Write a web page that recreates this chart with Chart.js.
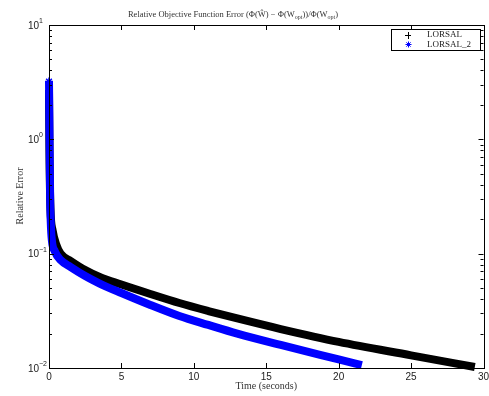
<!DOCTYPE html>
<html>
<head>
<meta charset="utf-8">
<script src="https://cdn.jsdelivr.net/npm/chart.js@4.4.0/dist/chart.umd.min.js"></script>
<style>
  body { margin: 0; background: #fff; }
  #wrap { width: 489px; height: 396px; }
</style>
</head>
<body>
<div id="wrap"><canvas id="errChart" width="489" height="396"></canvas></div>
<script>
// values
const lorsalTime = [0, 0.03, 0.1, 0.25, 0.5, 0.8, 1.5, 2.5, 3.5, 5, 7, 9, 11, 13, 16, 20, 25, 29.4];
const lorsalErr = [2.7, 0.8, 0.25, 0.16, 0.12, 0.1, 0.0863, 0.0719, 0.0625, 0.0537, 0.0444, 0.037, 0.0315, 0.0271, 0.0219, 0.0169, 0.0129, 0.0102];

const lorsal2Time = [0, 0.04, 0.08, 0.12, 0.2, 0.4, 0.8, 1.5, 2.5, 3.5, 5, 7, 9, 11, 13, 16, 20, 21.6];
const lorsal2Err = [3.2, 1.0, 0.3, 0.19, 0.13, 0.105, 0.088, 0.0764, 0.0638, 0.0548, 0.0453, 0.0356, 0.0285, 0.0238, 0.02, 0.0159, 0.0119, 0.0106];

const xTicks = [0, 5, 10, 15, 20, 25, 30];
const yExponents = [1, 0, -1, -2];
const seriesNames = ["LORSAL", "LORSAL_2"];

const serif = "'Liberation Serif', 'DejaVu Serif', serif";
const sans = "'Liberation Sans', Arial, sans-serif";

const toPoints = (xs, ys) => xs.map((t, i) => ({ x: t, y: ys[i] }));

// axes box, inward ticks, tick labels, titles and legend
const decorations = {
  id: "decorations",
  afterDraw(chart) {
    const { ctx, chartArea: a, scales } = chart;
    const x = scales.x;
    const y = scales.y;
    ctx.save();
    ctx.strokeStyle = "#000";
    ctx.lineWidth = 1;
    ctx.strokeRect(Math.round(a.left) + 0.5, Math.round(a.top) + 0.5,
      Math.round(a.right - a.left), Math.round(a.bottom - a.top));

    ctx.beginPath();
    xTicks.forEach((v) => {
      const px = Math.round(x.getPixelForValue(v)) + 0.5;
      ctx.moveTo(px, a.bottom); ctx.lineTo(px, a.bottom - 5);
      ctx.moveTo(px, a.top); ctx.lineTo(px, a.top + 5);
    });
    yExponents.forEach((e) => {
      const py = Math.round(y.getPixelForValue(Math.pow(10, e))) + 0.5;
      ctx.moveTo(a.left, py); ctx.lineTo(a.left + 5, py);
      ctx.moveTo(a.right, py); ctx.lineTo(a.right - 5, py);
    });
    for (let e = -2; e < 1; e++) {
      for (let m = 2; m <= 9; m++) {
        const py = Math.round(y.getPixelForValue(m * Math.pow(10, e))) + 0.5;
        ctx.moveTo(a.left, py); ctx.lineTo(a.left + 3, py);
        ctx.moveTo(a.right, py); ctx.lineTo(a.right - 3, py);
      }
    }
    ctx.stroke();

    // tick labels
    ctx.fillStyle = "#222";
    ctx.font = "10px " + sans;
    ctx.textAlign = "center";
    ctx.textBaseline = "middle";
    xTicks.forEach((v) => {
      ctx.fillText(String(v), x.getPixelForValue(v), a.bottom + 9);
    });
    yExponents.forEach((e) => {
      const py = y.getPixelForValue(Math.pow(10, e));
      ctx.font = "10px " + sans;
      ctx.textAlign = "left";
      ctx.fillText("10", 28, py + 1);
      ctx.font = "7px " + sans;
      ctx.fillText(e < 0 ? "\u2212" + (-e) : String(e), 39, py - 4);
    });

    // axis titles
    ctx.fillStyle = "#333";
    ctx.font = "10px " + serif;
    ctx.textAlign = "center";
    ctx.fillText("Time (seconds)", (a.left + a.right) / 2, 386);
    ctx.save();
    ctx.translate(20, 196);
    ctx.rotate(-Math.PI / 2);
    ctx.fillText("Relative Error", 0, 0);
    ctx.restore();

    // chart title with subscripts
    const parts = [
      ["Relative Objective Function Error (\u03A6(\u0174) \u2212 \u03A6(W", 0],
      ["opt", 1],
      ["))/\u03A6(W", 0],
      ["opt", 1],
      [")", 0],
    ];
    const big = "8.5px " + serif;
    const small = "6px " + serif;
    let total = 0;
    parts.forEach(([s, sub]) => { ctx.font = sub ? small : big; total += ctx.measureText(s).width; });
    let cx = 233 - total / 2;
    ctx.textAlign = "left";
    ctx.textBaseline = "alphabetic";
    parts.forEach(([s, sub]) => {
      ctx.font = sub ? small : big;
      ctx.fillText(s, cx, sub ? 19 : 17);
      cx += ctx.measureText(s).width;
    });

    // legend
    const lx = 391, ly = 29, lw = 89, lh = 21;
    ctx.fillStyle = "#fff";
    ctx.fillRect(lx, ly, lw, lh);
    ctx.strokeStyle = "#000";
    ctx.strokeRect(lx + 0.5, ly + 0.5, lw, lh);
    ctx.beginPath();
    ctx.moveTo(405, 35.5); ctx.lineTo(411, 35.5);
    ctx.moveTo(408.5, 32); ctx.lineTo(408.5, 39);
    ctx.stroke();
    ctx.strokeStyle = "#00f";
    Chart.helpers.drawPoint(ctx, { pointStyle: "star", radius: 3, borderWidth: 1.5 }, 408.5, 44.5);
    ctx.fillStyle = "#222";
    ctx.font = "9px " + serif;
    ctx.textBaseline = "middle";
    ctx.fillText(seriesNames[0], 427, 35);
    ctx.fillText(seriesNames[1], 427, 45);
    ctx.restore();
  },
};

new Chart(document.getElementById("errChart"), {
  type: "line",
  data: {
    datasets: [
      {
        label: seriesNames[0],
        data: toPoints(lorsalTime, lorsalErr),
        borderColor: "#000",
        borderWidth: 8,
        pointRadius: 0,
        cubicInterpolationMode: "monotone",
        clip: false,
        order: 2,
      },
      {
        label: seriesNames[1],
        data: toPoints(lorsal2Time, lorsal2Err),
        borderColor: "#0000ff",
        borderWidth: 8,
        pointStyle: "star",
        pointRadius: (c) => (c.dataIndex === 0 ? 4 : 0),
        pointBorderColor: "#0000ff",
        pointBorderWidth: 1.5,
        cubicInterpolationMode: "monotone",
        clip: false,
        order: 1,
      },
    ],
  },
  options: {
    responsive: false,
    animation: false,
    layout: { padding: { top: 25, right: 5, left: 0, bottom: 0 } },
    plugins: { legend: { display: false }, tooltip: { enabled: false }, title: { display: false } },
    scales: {
      x: {
        type: "linear",
        min: 0,
        max: 30,
        ticks: { display: false },
        grid: { display: false },
        border: { display: false },
        afterFit: (s) => { s.height = 28; },
      },
      y: {
        type: "logarithmic",
        min: 0.01,
        max: 10,
        ticks: { display: false },
        grid: { display: false },
        border: { display: false },
        afterFit: (s) => { s.width = 49; },
      },
    },
  },
  plugins: [decorations],
});
</script>
</body>
</html>
